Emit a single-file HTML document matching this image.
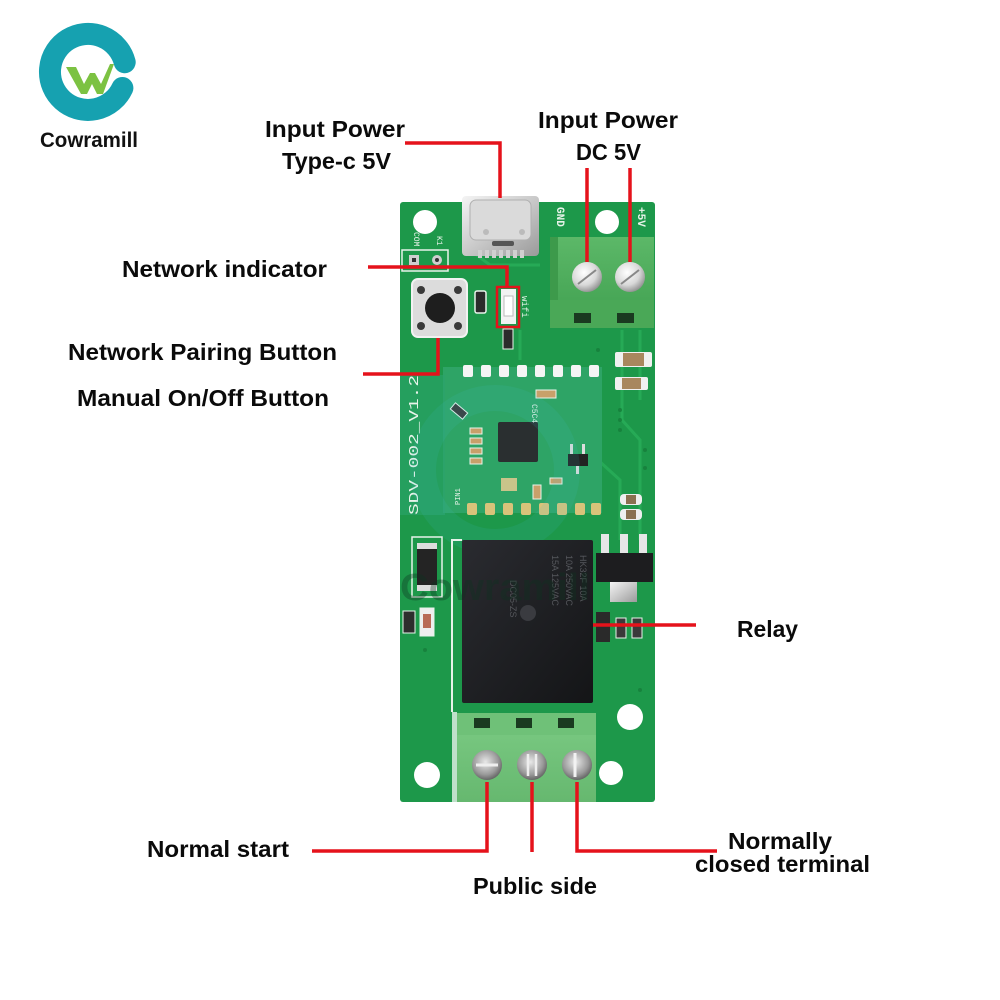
<!DOCTYPE html>
<html>
<head>
<meta charset="utf-8">
<style>
  html,body{margin:0;padding:0;background:#fff;}
  svg{display:block;}
  .lbl{font-family:"Liberation Sans",Arial,sans-serif;font-weight:bold;font-size:23px;fill:#0a0a0a;}
  .silk{font-family:"Liberation Mono","DejaVu Sans Mono",monospace;fill:#e8f3ea;}
</style>
</head>
<body>
<svg width="1000" height="1000" viewBox="0 0 1000 1000" xmlns="http://www.w3.org/2000/svg">
  <defs>
    <linearGradient id="silver" x1="0" y1="0" x2="1" y2="1">
      <stop offset="0" stop-color="#f4f4f4"/>
      <stop offset="0.5" stop-color="#c9c9c9"/>
      <stop offset="1" stop-color="#9a9a9a"/>
    </linearGradient>
    <radialGradient id="screw" cx="0.4" cy="0.35" r="0.7">
      <stop offset="0" stop-color="#ffffff"/>
      <stop offset="0.6" stop-color="#d8d8d8"/>
      <stop offset="1" stop-color="#8a8a8a"/>
    </radialGradient>
    <radialGradient id="screw2" cx="0.45" cy="0.4" r="0.7">
      <stop offset="0" stop-color="#e8e8e8"/>
      <stop offset="0.6" stop-color="#9a9a9a"/>
      <stop offset="1" stop-color="#4a4a4a"/>
    </radialGradient>
    <linearGradient id="relay" x1="0" y1="0" x2="1" y2="1">
      <stop offset="0" stop-color="#2a2b30"/>
      <stop offset="1" stop-color="#141517"/>
    </linearGradient>
    <linearGradient id="term1" x1="0" y1="0" x2="0" y2="1">
      <stop offset="0" stop-color="#5cb868"/>
      <stop offset="1" stop-color="#3f9f4f"/>
    </linearGradient>
    <linearGradient id="term2" x1="0" y1="0" x2="0" y2="1">
      <stop offset="0" stop-color="#7ccb84"/>
      <stop offset="1" stop-color="#66b86f"/>
    </linearGradient>
  </defs>

  <rect width="1000" height="1000" fill="#ffffff"/>

  <!-- ===== LOGO ===== -->
  <path d="M 124.7 62.2 A 38 38 0 1 0 122.4 88" fill="none" stroke="#16a1b0" stroke-width="22" stroke-linecap="round"/>
  <polygon points="66,67 76,67 84,84 90,73 95,73 101,84 110,64 114,64 103,94 97,94 92,84 87,94 81,94" fill="#7cc242"/>
  <text x="40" y="147" font-family="Liberation Sans, Arial, sans-serif" font-weight="bold" font-size="21" fill="#111" textLength="98" lengthAdjust="spacingAndGlyphs">Cowramill</text>

  <!-- ===== PCB ===== -->
  <rect x="400" y="202" width="255" height="600" rx="3" fill="#1d984a"/>
  <!-- traces -->
  <g stroke="#2bb35c" stroke-width="3" fill="none" opacity="0.7">
    <path d="M622 330 V420 L640 440 V540"/>
    <path d="M640 330 V400"/>
    <path d="M598 460 L620 480 V540"/>
    <path d="M520 330 V360"/>
    <path d="M470 250 L490 265 L540 265"/>
  </g>
  <g fill="#167d3a" opacity="0.8">
    <circle cx="620" cy="410" r="2"/><circle cx="620" cy="420" r="2"/><circle cx="620" cy="430" r="2"/>
    <circle cx="645" cy="450" r="2"/><circle cx="645" cy="468" r="2"/><circle cx="598" cy="350" r="2"/>
    <circle cx="425" cy="650" r="2"/><circle cx="640" cy="690" r="2"/>
  </g>

  <!-- holes -->
  <circle cx="425" cy="222" r="12" fill="#fff"/>
  <circle cx="607" cy="222" r="12" fill="#fff"/>
  <circle cx="630" cy="717" r="13" fill="#fff"/>
  <circle cx="427" cy="775" r="13" fill="#fff"/>
  <circle cx="611" cy="773" r="12" fill="#fff"/>

  <!-- COM K1 header -->
  <rect x="402" y="250" width="46" height="21" fill="none" stroke="#e8f3ea" stroke-width="1.5"/>
  <rect x="409" y="255" width="10" height="10" fill="#cfcfcf"/><rect x="412" y="258" width="4" height="4" fill="#333"/>
  <circle cx="437" cy="260" r="5" fill="#cfcfcf"/><circle cx="437" cy="260" r="2" fill="#333"/>
  <text class="silk" font-size="8" transform="translate(414,232) rotate(90)">COM</text>
  <text class="silk" font-size="8" transform="translate(437,236) rotate(90)">K1</text>

  <!-- USB-C -->
  <rect x="462" y="196" width="77" height="60" rx="4" fill="url(#silver)"/>
  <rect x="470" y="200" width="61" height="40" rx="6" fill="#dadada" stroke="#b0b0b0"/>
  <circle cx="486" cy="232" r="3" fill="#bbb"/><circle cx="522" cy="232" r="3" fill="#bbb"/>
  <rect x="492" y="241" width="22" height="5" rx="2" fill="#555"/>
  <g fill="#d0d0d0">
    <rect x="478" y="250" width="4" height="8"/><rect x="485" y="250" width="4" height="8"/><rect x="492" y="250" width="4" height="8"/><rect x="499" y="250" width="4" height="8"/>
    <rect x="506" y="250" width="4" height="8"/><rect x="513" y="250" width="4" height="8"/><rect x="520" y="250" width="4" height="8"/>
  </g>

  <!-- GND / +5V silk -->
  <text class="silk" font-size="11" font-weight="bold" transform="translate(557,207) rotate(90)">GND</text>
  <text class="silk" font-size="11" font-weight="bold" transform="translate(638,207) rotate(90)">+5V</text>

  <!-- DC terminal -->
  <rect x="550" y="237" width="104" height="91" fill="url(#term1)"/>
  <rect x="550" y="237" width="8" height="91" fill="#3d9a4b"/>
  <rect x="550" y="300" width="104" height="28" fill="#4aa857"/>
  <circle cx="587" cy="277" r="15" fill="url(#screw)"/>
  <line x1="578" y1="284" x2="596" y2="270" stroke="#888" stroke-width="2"/>
  <circle cx="630" cy="277" r="15" fill="url(#screw)"/>
  <line x1="621" y1="284" x2="639" y2="270" stroke="#888" stroke-width="2"/>
  <rect x="574" y="313" width="17" height="10" fill="#1a3a20"/>
  <rect x="617" y="313" width="17" height="10" fill="#1a3a20"/>

  <!-- button -->
  <rect x="412" y="279" width="55" height="58" rx="6" fill="#dcdcdc" stroke="#f2f2f2" stroke-width="2"/>
  <circle cx="421" cy="290" r="4" fill="#3a3a3a"/><circle cx="458" cy="290" r="4" fill="#3a3a3a"/>
  <circle cx="421" cy="326" r="4" fill="#3a3a3a"/><circle cx="458" cy="326" r="4" fill="#3a3a3a"/>
  <circle cx="440" cy="308" r="15" fill="#1e1e1e"/>

  <!-- small parts near button -->
  <rect x="475" y="291" width="11" height="22" rx="2" fill="#2b2b2b" stroke="#e8f3ea" stroke-width="1.5"/>
  <rect x="501" y="289" width="15" height="35" fill="#f2f2f2"/>
  <rect x="504" y="296" width="9" height="20" fill="#ffffff" stroke="#bbb"/>
  <rect x="503" y="329" width="10" height="20" fill="#2b2b2b" stroke="#e8f3ea" stroke-width="1"/>
  <text class="silk" font-size="9" transform="translate(522,296) rotate(90)">wifi</text>

  <!-- right caps -->
  <rect x="615" y="352" width="37" height="15" rx="2" fill="#f0f0f0"/>
  <rect x="623" y="353" width="21" height="13" fill="#a8875e"/>
  <rect x="615" y="377" width="33" height="13" rx="2" fill="#f0f0f0"/>
  <rect x="622" y="378" width="19" height="11" fill="#a8875e"/>
  <rect x="620" y="494" width="22" height="11" rx="4" fill="#eee"/><rect x="626" y="495" width="10" height="9" fill="#8a7050"/>
  <rect x="620" y="509" width="22" height="11" rx="4" fill="#eee"/><rect x="626" y="510" width="10" height="9" fill="#8a7050"/>

  <!-- module -->
  <rect x="443" y="367" width="159" height="146" fill="#2ea466"/>
  <rect x="400" y="375" width="45" height="140" fill="#2ca36c" opacity="0.6"/>
  <g fill="#f4f4f4">
    <rect x="463" y="365" width="10" height="12" rx="2"/><rect x="481" y="365" width="10" height="12" rx="2"/>
    <rect x="499" y="365" width="10" height="12" rx="2"/><rect x="517" y="365" width="10" height="12" rx="2"/>
    <rect x="535" y="365" width="10" height="12" rx="2"/><rect x="553" y="365" width="10" height="12" rx="2"/>
    <rect x="571" y="365" width="10" height="12" rx="2"/><rect x="589" y="365" width="10" height="12" rx="2"/>
  </g>
  <g fill="#d9c37a">
    <rect x="467" y="503" width="10" height="12" rx="2"/><rect x="485" y="503" width="10" height="12" rx="2"/>
    <rect x="503" y="503" width="10" height="12" rx="2"/><rect x="521" y="503" width="10" height="12" rx="2"/>
    <rect x="539" y="503" width="10" height="12" rx="2"/><rect x="557" y="503" width="10" height="12" rx="2"/>
    <rect x="575" y="503" width="10" height="12" rx="2"/><rect x="591" y="503" width="10" height="12" rx="2"/>
  </g>
  <rect x="498" y="422" width="40" height="40" rx="2" fill="#2a2f30"/>
  <!-- module smd parts -->
  <g fill="#c8a06a" stroke="#e8f3ea" stroke-width="1">
    <rect x="470" y="428" width="12" height="6"/><rect x="470" y="438" width="12" height="6"/>
    <rect x="470" y="448" width="12" height="6"/><rect x="470" y="458" width="12" height="6"/>
    <rect x="536" y="390" width="20" height="8"/><rect x="533" y="485" width="8" height="14"/>
    <rect x="550" y="478" width="12" height="6"/>
  </g>
  <rect x="501" y="478" width="16" height="13" fill="#c9c48a"/>
  <rect x="568" y="454" width="20" height="12" fill="#222"/>
  <rect x="570" y="444" width="3" height="10" fill="#ddd"/><rect x="582" y="444" width="3" height="10" fill="#ddd"/>
  <rect x="576" y="466" width="3" height="8" fill="#ddd"/>
  <rect x="451" y="407" width="16" height="8" fill="#3a3a3a" stroke="#e8f3ea" stroke-width="1" transform="rotate(40 459 411)"/>
  <text class="silk" font-size="14" transform="translate(418,515) rotate(-90)" textLength="140" lengthAdjust="spacingAndGlyphs">SDV-002_V1.2</text>
  <text class="silk" font-size="7" transform="translate(460,505) rotate(-90)">PIN1</text>
  <text class="silk" font-size="8" transform="translate(532,404) rotate(90)">C5C4</text>

  <!-- watermark ring -->
  <circle cx="495" cy="470" r="72" fill="none" stroke="#40c0d0" stroke-width="26" opacity="0.12"/>

  <!-- left diode & small parts -->
  <rect x="412" y="537" width="30" height="60" fill="none" stroke="#e8f3ea" stroke-width="1.5"/>
  <rect x="417" y="543" width="20" height="6" fill="#ddd"/>
  <rect x="417" y="549" width="20" height="36" fill="#242424"/>
  <rect x="417" y="585" width="20" height="6" fill="#ddd"/>
  <rect x="403" y="611" width="12" height="22" fill="#2d2d2d" stroke="#e8f3ea" stroke-width="1"/>
  <rect x="420" y="608" width="14" height="28" fill="#eee" stroke="#e8f3ea" stroke-width="1"/>
  <rect x="423" y="614" width="8" height="14" fill="#b86a55"/>

  <!-- relay silk outline -->
  <path d="M452 712 V540 H462" fill="none" stroke="#e8f3ea" stroke-width="2"/>
  <!-- relay -->
  <rect x="462" y="540" width="131" height="163" rx="2" fill="url(#relay)"/>
  <circle cx="528" cy="613" r="8" fill="#3a3b40"/>
  <g font-family="Liberation Sans, Arial, sans-serif" font-size="9" fill="#55575c">
    <text transform="translate(580,555) rotate(90)">HK32F 10A</text>
    <text transform="translate(566,555) rotate(90)">10A 250VAC</text>
    <text transform="translate(552,555) rotate(90)">15A 125VAC</text>
    <text transform="translate(510,580) rotate(90)">DC05-ZS</text>
  </g>

  <!-- regulator -->
  <g fill="#e6e6e6">
    <rect x="601" y="534" width="8" height="20"/><rect x="620" y="534" width="8" height="20"/><rect x="639" y="534" width="8" height="20"/>
  </g>
  <rect x="596" y="553" width="57" height="29" fill="#1d1d1f"/>
  <rect x="610" y="582" width="27" height="20" fill="url(#silver)"/>
  <!-- small parts right of relay -->
  <rect x="596" y="612" width="14" height="30" fill="#2a2a2a"/>
  <rect x="616" y="618" width="10" height="20" fill="#3a3a3a" stroke="#e8f3ea" stroke-width="1"/>
  <rect x="632" y="618" width="10" height="20" fill="#3a3a3a" stroke="#e8f3ea" stroke-width="1"/>

  <!-- watermark text -->
  <text x="400" y="600" font-family="Liberation Sans, Arial, sans-serif" font-weight="bold" font-size="38" fill="#0d3320" opacity="0.35" textLength="190" lengthAdjust="spacingAndGlyphs">Cowramill</text>

  <!-- relay terminal -->
  <rect x="452" y="712" width="5" height="90" fill="#e8f3ea" opacity="0.8"/>
  <rect x="457" y="713" width="139" height="89" fill="url(#term2)"/>
  <rect x="457" y="713" width="139" height="22" fill="#6fc178"/>
  <rect x="474" y="718" width="16" height="10" fill="#1a3a20"/>
  <rect x="516" y="718" width="16" height="10" fill="#1a3a20"/>
  <rect x="558" y="718" width="16" height="10" fill="#1a3a20"/>
  <circle cx="487" cy="765" r="15" fill="url(#screw2)"/>
  <line x1="476" y1="765" x2="498" y2="765" stroke="#eee" stroke-width="3"/>
  <circle cx="532" cy="765" r="15" fill="url(#screw2)"/>
  <line x1="528" y1="754" x2="528" y2="776" stroke="#eee" stroke-width="2.5"/><line x1="536" y1="754" x2="536" y2="776" stroke="#eee" stroke-width="2.5"/>
  <circle cx="577" cy="765" r="15" fill="url(#screw2)"/>
  <line x1="575" y1="753" x2="575" y2="777" stroke="#f2f2f2" stroke-width="3"/>

  <!-- ===== RED LEADER LINES ===== -->
  <g fill="none" stroke="#e5121b" stroke-width="3.5">
    <polyline points="405,143 500,143 500,198"/>
    <line x1="587" y1="168" x2="587" y2="262"/>
    <line x1="630" y1="168" x2="630" y2="262"/>
    <polyline points="368,267 507,267 507,287"/>
    <rect x="497" y="287" width="22" height="40" stroke-width="2.5"/>
    <polyline points="363,374 438,374 438,338"/>
    <line x1="593" y1="625" x2="696" y2="625"/>
    <polyline points="312,851 487,851 487,782"/>
    <line x1="532" y1="782" x2="532" y2="852"/>
    <polyline points="577,782 577,851 717,851"/>
  </g>

  <!-- ===== LABELS ===== -->
  <text class="lbl" x="265" y="137" textLength="140" lengthAdjust="spacingAndGlyphs">Input Power</text>
  <text class="lbl" x="282" y="169" textLength="109" lengthAdjust="spacingAndGlyphs">Type-c 5V</text>
  <text class="lbl" x="538" y="128" textLength="140" lengthAdjust="spacingAndGlyphs">Input Power</text>
  <text class="lbl" x="576" y="160" textLength="65" lengthAdjust="spacingAndGlyphs">DC 5V</text>
  <text class="lbl" x="122" y="277" textLength="205" lengthAdjust="spacingAndGlyphs">Network indicator</text>
  <text class="lbl" x="68" y="360" textLength="269" lengthAdjust="spacingAndGlyphs">Network Pairing Button</text>
  <text class="lbl" x="77" y="406" textLength="252" lengthAdjust="spacingAndGlyphs">Manual On/Off Button</text>
  <text class="lbl" x="737" y="637" textLength="61" lengthAdjust="spacingAndGlyphs">Relay</text>
  <text class="lbl" x="147" y="857" textLength="142" lengthAdjust="spacingAndGlyphs">Normal start</text>
  <text class="lbl" x="473" y="894" textLength="124" lengthAdjust="spacingAndGlyphs">Public side</text>
  <text class="lbl" x="728" y="849" textLength="104" lengthAdjust="spacingAndGlyphs">Normally</text>
  <text class="lbl" x="695" y="872" textLength="175" lengthAdjust="spacingAndGlyphs">closed terminal</text>
</svg>
</body>
</html>
